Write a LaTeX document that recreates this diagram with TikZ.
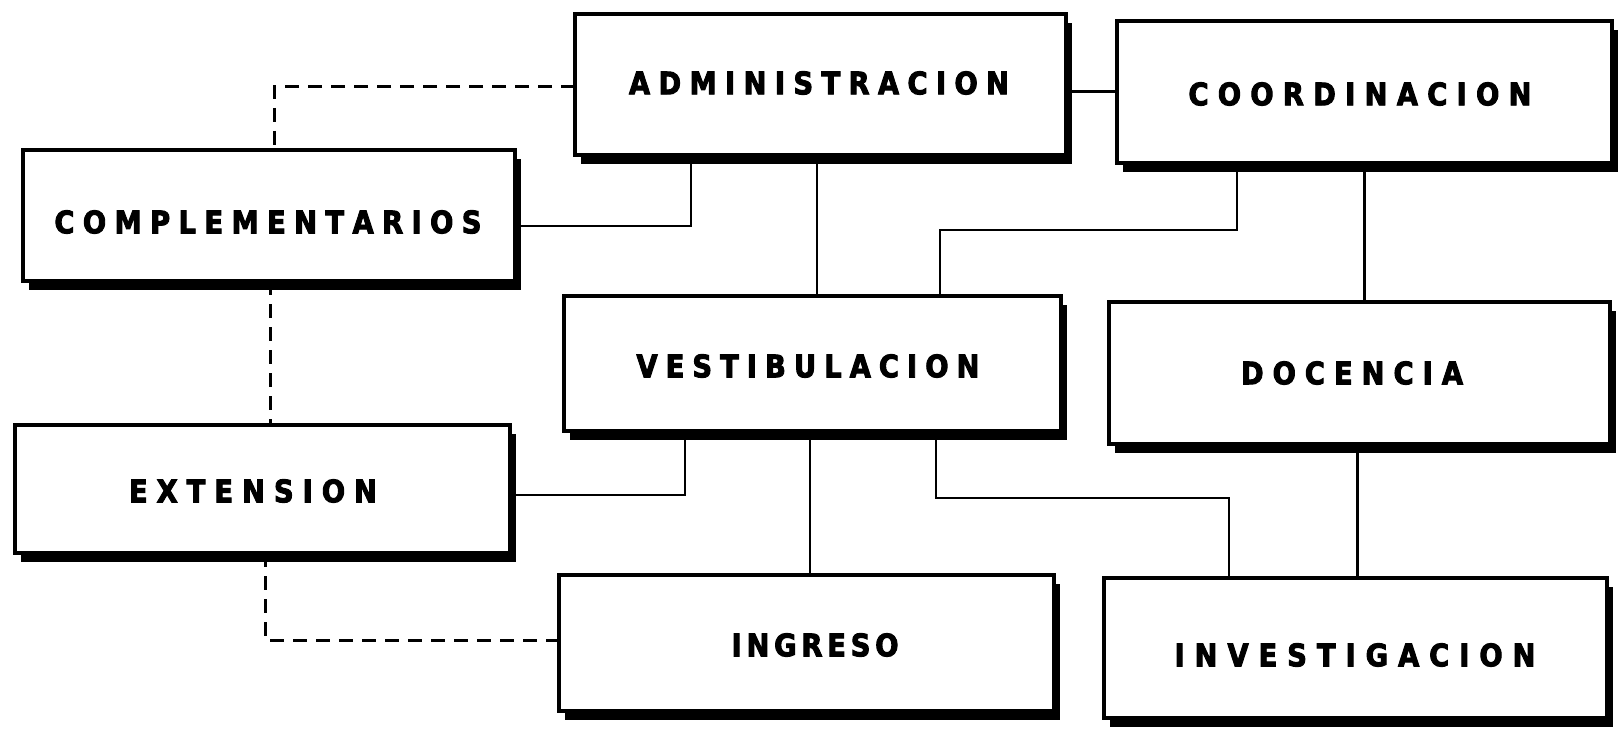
\documentclass[tikz,border=0pt]{standalone}
\usepackage{fontspec}
\newfontfamily\lblfont[FakeStretch=0.88,FakeBold=3]{DejaVu Sans Bold}
\usetikzlibrary{shadows}
\newcommand\spreadlbl[2]{\makebox[#1][s]{\spaceskip=0pt plus 1fil\relax #2}}
\begin{document}
\begin{tikzpicture}[x=1pt,y=-1pt,
  box/.style={draw, line width=4.5pt, fill=white, inner sep=0pt, outer sep=0pt,
    general shadow={fill=black, shadow xshift=6pt, shadow yshift=-9pt}},
  lbl/.style={inner sep=0pt, font=\lblfont\fontsize{31}{31}\selectfont},
  conn/.style={line width=2.3pt},
  dconn/.style={line width=3pt, dash pattern=on 14pt off 9pt}]
\useasboundingbox[fill=white] (0,0) rectangle (1618,733);

% boxes
\node[box, minimum width=491pt, minimum height=141pt] (adm) at (820.5,84.5) {};
\node[box, minimum width=495pt, minimum height=142pt] (coord) at (1364.5,92) {};
\node[box, minimum width=492pt, minimum height=131pt] (compl) at (269,215.5) {};
\node[box, minimum width=497pt, minimum height=135pt] (vest) at (812.5,363.5) {};
\node[box, minimum width=501pt, minimum height=142pt] (doc) at (1359.5,373) {};
\node[box, minimum width=495pt, minimum height=128pt] (ext) at (262.5,489) {};
\node[box, minimum width=495pt, minimum height=136pt] (ing) at (806.5,643) {};
\node[box, minimum width=503pt, minimum height=140pt] (inv) at (1355.5,648) {};

% labels
\node[lbl] (tadm) at (819,83) {\spreadlbl{380pt}{A D M I N I S T R A C I O N}};
\node[lbl] (tcoord) at (1360,94) {\spreadlbl{343pt}{C O O R D I N A C I O N}};
\node[lbl] (tcompl) at (268,222) {\spreadlbl{427pt}{C O M P L E M E N T A R I O S}};
\node[lbl] (tvest) at (808,366) {\spreadlbl{343pt}{V E S T I B U L A C I O N}};
\node[lbl] (tdoc) at (1352,373) {\spreadlbl{222pt}{D O C E N C I A}};
\node[lbl] (text) at (253,491) {\spreadlbl{248pt}{E X T E N S I O N}};
\node[lbl] (ting) at (815,645) {\spreadlbl{167pt}{I N G R E S O}};
\node[lbl] (tinv) at (1355,655) {\spreadlbl{361pt}{I N V E S T I G A C I O N}};

% bend points
\coordinate (b1) at (691,226);
\coordinate (v1) at (817,0);
\coordinate (b2) at (1237,230);
\coordinate (b3) at (940,230);
\coordinate (d1) at (274,87);
\coordinate (d2) at (270,0);
\coordinate (e1) at (685,495);
\coordinate (v2) at (810,0);
\coordinate (f1) at (936,498);
\coordinate (f2) at (1229,498);
\coordinate (g1) at (265,640);

% solid connectors
\draw[conn] ([yshift=-7pt]adm.east) -- ([yshift=-7pt]adm.east -| coord.west);
\draw[conn] (adm.south -| b1) -- (b1) -- (b1 -| compl.east);
\draw[conn] (adm.south -| v1) -- (vest.north -| v1);
\draw[conn] (coord.south -| b2) -- (b2) -- (b3) -- (vest.north -| b3);
\draw[conn] (coord.south) -- (coord.south |- doc.north);
\draw[conn] (ext.east |- e1) -- (e1) -- (e1 |- vest.south);
\draw[conn] (vest.south -| v2) -- (ing.north -| v2);
\draw[conn] (vest.south -| f1) -- (f1) -- (f2) -- (inv.north -| f2);
\draw[conn] ([xshift=-2pt]doc.south) -- ([xshift=-2pt]doc.south |- inv.north);

% dashed connectors
\draw[dconn] (adm.west |- d1) -- (d1) -- (d1 |- compl.north);
\draw[dconn] (compl.south -| d2) -- (ext.north -| d2);
\draw[dconn] (ext.south -| g1) -- (g1) -- (g1 -| ing.west);
\end{tikzpicture}
\end{document}
